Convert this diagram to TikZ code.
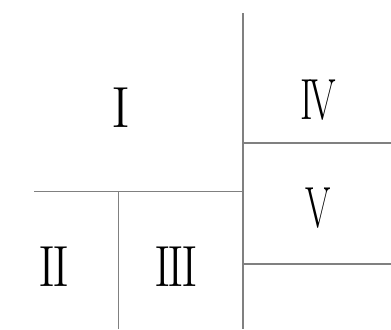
\documentclass[tikz,border=0pt]{standalone}
\usepackage{graphicx}
\usetikzlibrary{positioning}
\tikzset{
    partline/.style={draw={rgb,255:red,128;green,128;blue,128}, line width=1.1pt},
    numeral/.style={font=\fontsize{33}{33}\selectfont, inner sep=0pt},
}
% squeeze a numeral sideways
\newcommand{\numsq}[2]{\scalebox{#1}[1]{#2}}

\begin{document}
\begin{tikzpicture}[x=0.02cm, y=-0.02cm]
    \useasboundingbox (0,0) rectangle (391,329);

    % frame points
    \coordinate (ctop)  at (243,13);
    \coordinate (cbot)  at (243,329);
    \coordinate (cmid)  at (243,191.5);
    \coordinate (lend)  at (34,191.5);
    \coordinate (sbot)  at (118.5,329);
    \coordinate (ra)    at (243,143);
    \coordinate (raend) at (391,143);
    \coordinate (rb)    at (243,264);
    \coordinate (rbend) at (391,264);

    \draw[partline] (ctop) -- (cbot);
    \draw[partline] (lend) -- (cmid);
    \draw[partline] (sbot) -- (sbot |- cmid);
    \draw[partline] (ra) -- (raend);
    \draw[partline] (rb) -- (rbend);

    % region labels
    \node[numeral] (r1) at (121,108) {\numsq{1}{I}};
    \node[numeral] (r2) at (54,267)  {\numsq{0.9}{I\kern-0.06em I}};
    \node[numeral] (r3) at (176,267) {\numsq{0.87}{I\kern-0.06em I\kern-0.06em I}};
    \node[numeral] (r4) at (318,100) {\numsq{0.66}{I\kern-0.08em V}};
    \node[numeral] (r5) at (318,208) {\numsq{0.63}{V}};
\end{tikzpicture}
\end{document}
